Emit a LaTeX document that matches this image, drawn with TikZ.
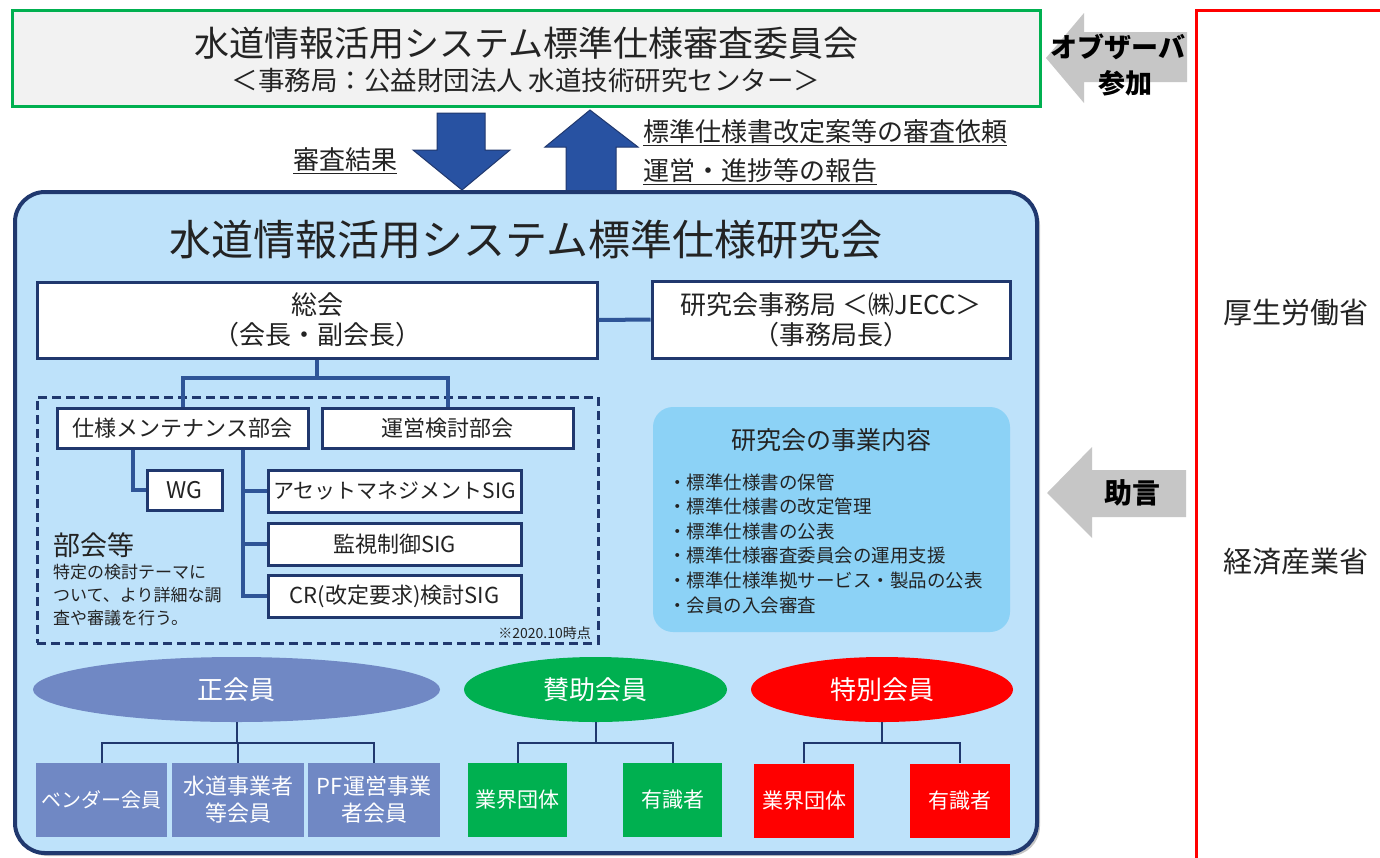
\documentclass[tikz,border=0pt]{standalone}
\usepackage{fontspec}
\setmainfont{Noto Sans CJK JP}
\usetikzlibrary{shapes.geometric,shadows}
\definecolor{navy}{RGB}{32,56,110}
\definecolor{linkblue}{RGB}{47,85,151}
\definecolor{paleblue}{RGB}{190,226,250}
\definecolor{skyblue}{RGB}{140,210,246}
\definecolor{arrowblue}{RGB}{40,82,162}
\definecolor{memberblue}{RGB}{112,136,196}
\definecolor{mgreen}{RGB}{0,176,80}
\definecolor{mred}{RGB}{255,0,0}
\definecolor{topgray}{RGB}{242,242,242}
\definecolor{arrowgray}{RGB}{198,198,198}
\definecolor{textdark}{RGB}{35,35,35}
\newcommand\fs[2]{\fontsize{#1}{#2}\selectfont}
\tikzset{
  orgbox/.style={draw=navy, line width=3pt, fill=white, inner sep=0pt, align=center, text=textdark},
  link/.style={draw=linkblue, line width=4pt},
  memlink/.style={draw=navy, line width=2pt},
  membox/.style={inner sep=0pt, align=center, text=white, minimum height=74pt},
  memell/.style={ellipse, inner sep=0pt, text=white, minimum height=65pt, font=\fs{26}{30}},
  lbl/.style={inner sep=0pt, text=textdark},
  blockarrow/.style={fill=arrowblue, draw=navy, line width=1pt},
  grayarrow/.style={fill=arrowgray},
}
\begin{document}
\begin{tikzpicture}[x=1pt,y=-1pt]
\clip (0,0) rectangle (1380,857);
\fill[white] (0,0) rectangle (1380,857);

% top review committee
\node[draw=mgreen, line width=3pt, fill=topgray, minimum width=1028pt, minimum height=96pt, inner sep=0pt] (review) at (526,58) {};
\node[lbl, font=\fs{35}{40}] (reviewtitle) at (526,43) {水道情報活用システム標準仕様審査委員会};
\node[lbl, font=\fs{26.5}{30}] (reviewsub) at (526,80) {＜事務局：公益財団法人 水道技術研究センター＞};

% observer arrow
\fill[grayarrow] (1046,58) -- (1084,13) -- (1084,32) -- (1187,32) -- (1187,82) -- (1084,82) -- (1084,103) -- cycle;
\node[lbl, font=\fs{27}{30}\bfseries, text=black] (obs1) at (1118,47) {オブザーバ};
\node[lbl, font=\fs{27}{30}\bfseries, text=black] (obs2) at (1125,83) {参加};

% blue block arrows
\filldraw[blockarrow] (437,113) -- (485,113) -- (485,150) -- (510,150) -- (462,190) -- (413,150) -- (437,150) -- cycle;
\filldraw[blockarrow] (590,110) -- (638,147) -- (616,147) -- (616,192) -- (566,192) -- (566,147) -- (545,147) -- cycle;
\node[lbl, font=\fs{26}{30}] (resultlbl) at (345,161) {\underline{審査結果}};
\node[lbl, font=\fs{26}{30}, anchor=west] (reqlbl) at (643,133) {\underline{標準仕様書改定案等の審査依頼}};
\node[lbl, font=\fs{26}{30}, anchor=west] (replbl) at (643,172) {\underline{運営・進捗等の報告}};

% ministries
\draw[mred, line width=3pt] (1196,10) rectangle (1420,900);
\node[lbl, font=\fs{29}{32}] (mhlw) at (1296,313) {厚生労働省};
\node[lbl, font=\fs{29}{32}] (meti) at (1296,562) {経済産業省};
\fill[grayarrow] (1047,493) -- (1092,447) -- (1092,470) -- (1186,470) -- (1186,517) -- (1092,517) -- (1092,538) -- cycle;
\node[lbl, font=\fs{28}{30}\bfseries, text=black] (advice) at (1132,493) {助言};

% study group
\node[draw=navy, line width=4pt, fill=paleblue, rounded corners=30pt, minimum width=1022pt, minimum height=661pt, inner sep=0pt,
      drop shadow={shadow xshift=3pt, shadow yshift=-3pt, opacity=0.45}] (study) at (526,522.5) {};
\node[lbl, font=\fs{42}{46}] (studytitle) at (526,240) {水道情報活用システム標準仕様研究会};

\node[orgbox, minimum width=560pt, minimum height=76pt, font=\fs{26}{30}] (sokai) at (317,320) {総会\\（会長・副会長）};
\node[orgbox, minimum width=358pt, minimum height=77pt, font=\fs{26}{30}] (jimu) at (831,319.5) {研究会事務局 ＜㈱JECC＞\\（事務局長）};
\draw[link] (sokai.east) -- (jimu.west);

\node[draw=navy, line width=3pt, dash pattern=on 9pt off 5pt, minimum width=561pt, minimum height=246pt, inner sep=0pt] (bukaiframe) at (317.5,520) {};

\node[orgbox, minimum width=251pt, minimum height=40pt, font=\fs{22}{26}] (spec) at (182.5,428) {仕様メンテナンス部会};
\node[orgbox, minimum width=251pt, minimum height=40pt, font=\fs{22}{26}] (ops) at (447.5,428) {運営検討部会};
\draw[link] (sokai.south) -- ++(0,18) -| (spec.north);
\draw[link] (sokai.south) -- ++(0,18) -| (ops.north);

\node[orgbox, minimum width=75pt, minimum height=40pt, font=\fs{23}{26}] (wg) at (184.5,490) {WG};
\node[orgbox, minimum width=253pt, minimum height=42pt, font=\fs{21}{26}] (sig1) at (394.5,491) {アセットマネジメントSIG};
\node[orgbox, minimum width=253pt, minimum height=42pt, font=\fs{22}{26}] (sig2) at (394.5,544) {監視制御SIG};
\node[orgbox, minimum width=253pt, minimum height=42pt, font=\fs{22}{26}] (sig3) at (394.5,596) {CR(改定要求)検討SIG};
\draw[link] ([xshift=-50pt]spec.south) |- (wg.west);
\draw[link] ([xshift=60pt]spec.south) |- (sig1.west);
\draw[link] ([xshift=60pt]spec.south) |- (sig2.west);
\draw[link] ([xshift=60pt]spec.south) |- (sig3.west);

\node[lbl, font=\fs{27}{30}, anchor=west] (bukai) at (53,545) {部会等};
\node[lbl, font=\fs{17}{23}, anchor=west, align=left] (bukaidesc) at (53,595) {特定の検討テーマに\\ついて、より詳細な調\\査や審議を行う。};
\node[lbl, font=\fs{14}{16}, anchor=east] (asof) at (591,633) {※2020.10時点};

% business content
\node[fill=skyblue, rounded corners=20pt, minimum width=357pt, minimum height=225pt, inner sep=0pt] (biz) at (831.5,519.5) {};
\node[lbl, font=\fs{25}{28}] (biztitle) at (831.5,440) {研究会の事業内容};
\node[lbl, font=\fs{18.5}{24.6}, anchor=west, align=left] (bizitems) at (668,543.5) {・標準仕様書の保管\\・標準仕様書の改定管理\\・標準仕様書の公表\\・標準仕様審査委員会の運用支援\\・標準仕様準拠サービス・製品の公表\\・会員の入会審査};

% members
\node[memell, fill=memberblue, minimum width=407pt] (sei) at (236.5,689.5) {正会員};
\node[memell, fill=mgreen, minimum width=263pt] (sanjo) at (595.5,689.5) {賛助会員};
\node[memell, fill=mred, minimum width=262pt] (tokubetsu) at (882,689.5) {特別会員};

\node[membox, fill=memberblue, minimum width=131pt, font=\fs{20}{26}] (vendor) at (101.5,800) {ベンダー会員};
\node[membox, fill=memberblue, minimum width=132pt, font=\fs{22}{27}] (utility) at (238,800) {水道事業者\\等会員};
\node[membox, fill=memberblue, minimum width=132pt, font=\fs{22}{27}] (pf) at (374,800) {PF運営事業\\者会員};
\draw[memlink] (sei.south) -- ++(0,21) -| (vendor.north);
\draw[memlink] (sei.south) -- ++(0,21) -| (utility.north);
\draw[memlink] (sei.south) -- ++(0,21) -| (pf.north);

\node[membox, fill=mgreen, minimum width=99pt, font=\fs{21}{26}] (gdantai) at (517.5,800) {業界団体};
\node[membox, fill=mgreen, minimum width=99pt, font=\fs{21}{26}] (gexpert) at (672.5,800) {有識者};
\draw[memlink] (sanjo.south) -- ++(0,21) -| (gdantai.north);
\draw[memlink] (sanjo.south) -- ++(0,21) -| (gexpert.north);

\node[membox, fill=mred, minimum width=100pt, font=\fs{21}{26}] (rdantai) at (804,800.5) {業界団体};
\node[membox, fill=mred, minimum width=100pt, font=\fs{21}{26}] (rexpert) at (960,800.5) {有識者};
\draw[memlink] (tokubetsu.south) -- ++(0,21) -| (rdantai.north);
\draw[memlink] (tokubetsu.south) -- ++(0,21) -| (rexpert.north);
\end{tikzpicture}
\end{document}
